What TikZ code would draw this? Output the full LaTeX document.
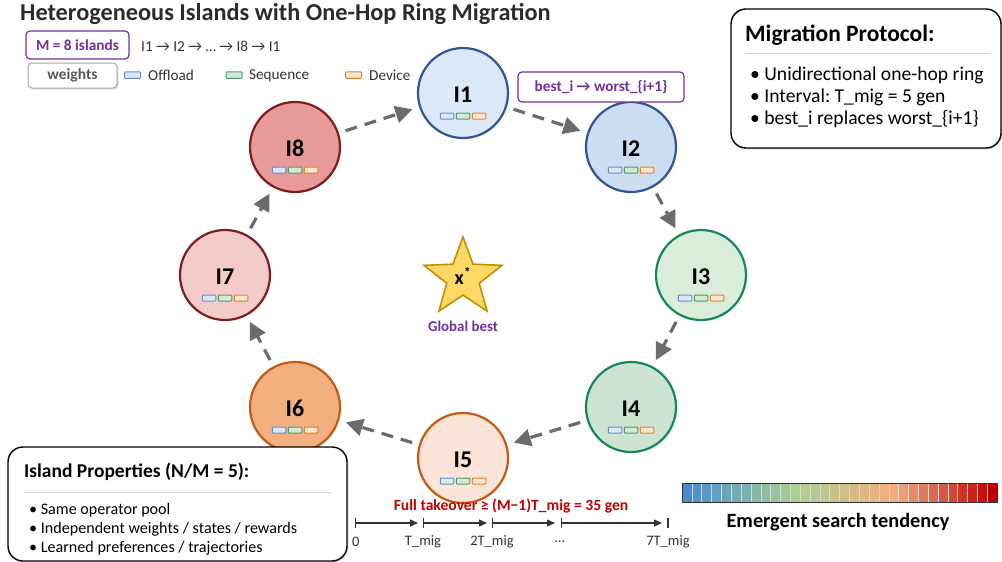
\documentclass[tikz,border=0pt]{standalone}
\usepackage{fontspec}
\setmainfont{Carlito}
\usetikzlibrary{arrows.meta,shapes.geometric,shadows}
\frenchspacing

\definecolor{titlegray}{HTML}{2B2B2B}
\definecolor{textgray}{HTML}{333333}
\definecolor{purp}{HTML}{7030A0}
\definecolor{alarm}{HTML}{C00000}
\definecolor{arrowgray}{HTML}{6B6B6B}
\definecolor{rulegray}{HTML}{D0D0D0}
\definecolor{starF}{HTML}{FFD966}
\definecolor{starD}{HTML}{BF8F00}
% island fills and borders
\definecolor{blueA}{HTML}{DCE9FA}
\definecolor{blueB}{HTML}{CCDEF2}
\definecolor{blueD}{HTML}{2F5597}
\definecolor{greenA}{HTML}{DAEDDB}
\definecolor{greenB}{HTML}{CCE4D2}
\definecolor{greenD}{HTML}{15875A}
\definecolor{orangeA}{HTML}{FCE5D8}
\definecolor{orangeB}{HTML}{F2AF80}
\definecolor{orangeD}{HTML}{C55A11}
\definecolor{redA}{HTML}{F4CBCB}
\definecolor{redB}{HTML}{E89A9A}
\definecolor{redD}{HTML}{7F1D1D}
% weight chips
\definecolor{offF}{HTML}{DAE8FC}\definecolor{offD}{HTML}{6C8EBF}
\definecolor{seqF}{HTML}{D5E8D4}\definecolor{seqD}{HTML}{4E9A6E}
\definecolor{devF}{HTML}{FFE6CC}\definecolor{devD}{HTML}{E0822E}
% colour bar stops
\definecolor{cbA}{HTML}{4A8BD0}
\definecolor{cbB}{HTML}{A9D18E}
\definecolor{cbC}{HTML}{F4AD80}
\definecolor{cbD}{HTML}{C00000}

\tikzset{
  isle/.style={circle, minimum size=90pt, inner sep=0pt, line width=2.2pt},
  isletext/.style={font=\fontsize{24}{26}\selectfont\bfseries, text=black, inner sep=0pt},
  chip/.style={rectangle, minimum width=13.5pt, minimum height=6pt, inner sep=0pt,
               line width=1pt, rounded corners=0.8pt},
  mig/.style={line width=3.2pt, arrowgray, dash pattern=on 12pt off 8pt,
              -{Triangle[length=17pt,width=17pt]}, shorten <=7pt, shorten >=7pt},
  panel/.style={draw=black, fill=white, line width=1.4pt, rounded corners=15pt,
                drop shadow={opacity=0.25, shadow xshift=1.5pt, shadow yshift=-1.5pt}},
  tag/.style={draw=purp, fill=white, line width=1.2pt, rounded corners=4pt,
              text=purp, font=\fontsize{15.3}{17}\selectfont\bfseries},
  legtext/.style={anchor=west, inner sep=0pt, font=\fontsize{15.2}{17}\selectfont, text=textgray},
  bullet/.style={anchor=west, inner sep=0pt, text=black},
  tl/.style={line width=1.2pt, textgray, {Bar[width=10pt]}-{Triangle[length=8pt,width=7pt]}},
  tllabel/.style={font=\fontsize{14.5}{16}\selectfont, text=textgray, inner sep=0pt},
}

% one island: name, x, y, fill, border, label
\newcommand\drawisle[6]{%
  \node[isle, fill=#4, draw=#5, drop shadow={opacity=0.15, shadow xshift=1pt, shadow yshift=-1pt}] (#1) at (#2,#3) {};
  \node[isletext] (#1-lbl) at ({#2},{#3+1.5}) {#6};
  \node[chip, fill=offF, draw=offD] (#1-off) at ({#2-16},{#3+23}) {};
  \node[chip, fill=seqF, draw=seqD] (#1-seq) at ({#2},{#3+23}) {};
  \node[chip, fill=devF, draw=devD] (#1-dev) at ({#2+16},{#3+23}) {};
}

\begin{document}
\begin{tikzpicture}[x=1pt, y=-1pt]
\useasboundingbox (0,0) rectangle (1002,562);

% title
\node[anchor=west, inner sep=0pt, font=\fontsize{24.3}{26}\selectfont\bfseries, text=titlegray]
  (title) at (20,14) {Heterogeneous Islands with One-Hop Ring Migration};

% legend rows
\node[tag, minimum width=103pt, minimum height=28pt, inner sep=0pt] (mbox) at (77.5,45) {M = 8 islands};
\node[legtext] (chain) at (141,46) {I1 → I2 → … → I8 → I1};
\node[draw=black!35, fill=white, rounded corners=4pt, line width=1pt,
      minimum width=89pt, minimum height=25pt, inner sep=0pt,
      font=\fontsize{15.5}{17}\selectfont\bfseries, text=black!65,
      drop shadow={opacity=0.25, shadow xshift=1.5pt, shadow yshift=-1.5pt}]
  (weights) at (72.5,75.5) {weights};
\node[chip, fill=offF, draw=offD, minimum width=16pt, minimum height=6.5pt] (lg-off) at (132.5,75) {};
\node[legtext] (lg-offt) at (148,75.5) {Offload};
\node[chip, fill=seqF, draw=seqD, minimum width=16pt, minimum height=6.5pt] (lg-seq) at (234,75) {};
\node[legtext] (lg-seqt) at (249,75.5) {Sequence};
\node[chip, fill=devF, draw=devD, minimum width=16pt, minimum height=6.5pt] (lg-dev) at (353.5,75) {};
\node[legtext] (lg-devt) at (369,75.5) {Device};

% the ring of islands
\drawisle{I1}{463}{93}{blueA}{blueD}{I1}
\drawisle{I2}{631}{147}{blueB}{blueD}{I2}
\drawisle{I3}{701}{275}{greenA}{greenD}{I3}
\drawisle{I4}{631}{407}{greenB}{greenD}{I4}
\drawisle{I5}{463}{458}{orangeA}{orangeD}{I5}
\drawisle{I6}{295}{407}{orangeB}{orangeD}{I6}
\drawisle{I7}{225}{275}{redA}{redD}{I7}
\drawisle{I8}{295}{147}{redB}{redD}{I8}

% one-hop migration arrows
\draw[mig] (I1) -- (I2);
\draw[mig] (I2) -- (I3);
\draw[mig] (I3) -- (I4);
\draw[mig] (I4) -- (I5);
\draw[mig] (I5) -- (I6);
\draw[mig] (I6) -- (I7);
\draw[mig] (I7) -- (I8);
\draw[mig] (I8) -- (I1);

% migration rule tag
\node[tag, minimum width=166pt, minimum height=30pt, inner sep=0pt] (rule) at (601,87) {best\_i → worst\_\{i+1\}};

% global best
\node[star, star points=5, star point ratio=2.4, minimum size=82pt, inner sep=0pt,
      fill=starF, draw=starD, line width=1.6pt]
  (star) at (463,278) {};
\node[inner sep=0pt, font=\fontsize{20}{22}\selectfont\bfseries] (xstar) at (463,276) {x\textsuperscript{*}};
\node[inner sep=0pt, font=\fontsize{14.9}{16}\selectfont\bfseries, text=purp] (gbest) at (463,326) {Global best};

% migration protocol panel
\node[panel, minimum width=270pt, minimum height=139pt, inner sep=0pt] (proto) at (866,78.5) {};
\node[anchor=west, inner sep=0pt, font=\fontsize{23.5}{25}\selectfont\bfseries] (proto-t) at (745,35) {Migration Protocol:};
\draw[rulegray, line width=1pt] (745,53) -- (990,53);
\node[bullet, font=\fontsize{19.6}{21}\selectfont] (proto-b1) at (750,75) {• Unidirectional one-hop ring};
\node[bullet, font=\fontsize{19.6}{21}\selectfont] (proto-b2) at (750,97) {• Interval: T\_mig = 5 gen};
\node[bullet, font=\fontsize{19.6}{21}\selectfont] (proto-b3) at (750,119) {• best\_i replaces worst\_\{i+1\}};

% island properties panel
\node[panel, minimum width=339pt, minimum height=114pt, inner sep=0pt] (props) at (177.5,504) {};
\node[anchor=west, inner sep=0pt, font=\fontsize{19.5}{21}\selectfont\bfseries] (props-t) at (24,472) {Island Properties (N/M = 5):};
\draw[rulegray, line width=1pt] (24,492) -- (331,492);
\node[bullet, font=\fontsize{16.1}{18}\selectfont] (props-b1) at (29,510) {• Same operator pool};
\node[bullet, font=\fontsize{16.1}{18}\selectfont] (props-b2) at (29,529) {• Independent weights / states / rewards};
\node[bullet, font=\fontsize{16.1}{18}\selectfont] (props-b3) at (29,548) {• Learned preferences / trajectories};

% takeover timeline
\node[inner sep=0pt, font=\fontsize{15.6}{17}\selectfont\bfseries, text=alarm] (takeover) at (511,506)
  {Full takeover ≥ (M−1)T\_mig = 35 gen};
\coordinate (t0) at (355,523);
\coordinate (t0e) at (418,523);
\coordinate (t1) at (423,523);
\coordinate (t1e) at (487,523);
\coordinate (t2) at (492,523);
\coordinate (t2e) at (555,523);
\coordinate (t3) at (561,523);
\coordinate (t3e) at (662,523);
\coordinate (t4) at (668,523);
\draw[tl] (t0) -- (t0e);
\draw[tl] (t1) -- (t1e);
\draw[tl] (t2) -- (t2e);
\draw[tl] (t3) -- (t3e);
\draw[line width=1.2pt, textgray] (668,518) -- (668,528);
\node[tllabel, anchor=west] (l0) at (352,542) {0};
\node[tllabel] (l1) at (423,542) {T\_mig};
\node[tllabel] (l2) at (492,542) {2T\_mig};
\node[tllabel] (l3) at (560,542) {…};
\node[tllabel] (l4) at (668,542) {7T\_mig};

% emergent search tendency colour bar
\foreach \i in {0,...,10}{
  \pgfmathtruncatemacro\p{100*\i/11}
  \colorlet{cell}{cbB!\p!cbA}
  \fill[cell] ({682+\i*9.84375},483) rectangle ++(9.84375,19);
  \draw[black!15, line width=0.4pt] ({682+\i*9.84375},483) -- ++(0,19);
}
\foreach \i in {11,...,20}{
  \pgfmathtruncatemacro\p{100*(\i-11)/10}
  \colorlet{cell}{cbC!\p!cbB}
  \fill[cell] ({682+\i*9.84375},483) rectangle ++(9.84375,19);
  \draw[black!15, line width=0.4pt] ({682+\i*9.84375},483) -- ++(0,19);
}
\foreach \i in {21,...,31}{
  \pgfmathtruncatemacro\p{100*(\i-21)/10}
  \colorlet{cell}{cbD!\p!cbC}
  \fill[cell] ({682+\i*9.84375},483) rectangle ++(9.84375,19);
  \draw[black!15, line width=0.4pt] ({682+\i*9.84375},483) -- ++(0,19);
}
\node[draw=black!80, line width=1pt, minimum width=315pt, minimum height=19pt, inner sep=0pt] (cbar) at (839.5,492.5) {};
\node[inner sep=0pt, font=\fontsize{20.3}{22}\selectfont\bfseries] (cbar-t) at (838,522) {Emergent search tendency};

\end{tikzpicture}
\end{document}
